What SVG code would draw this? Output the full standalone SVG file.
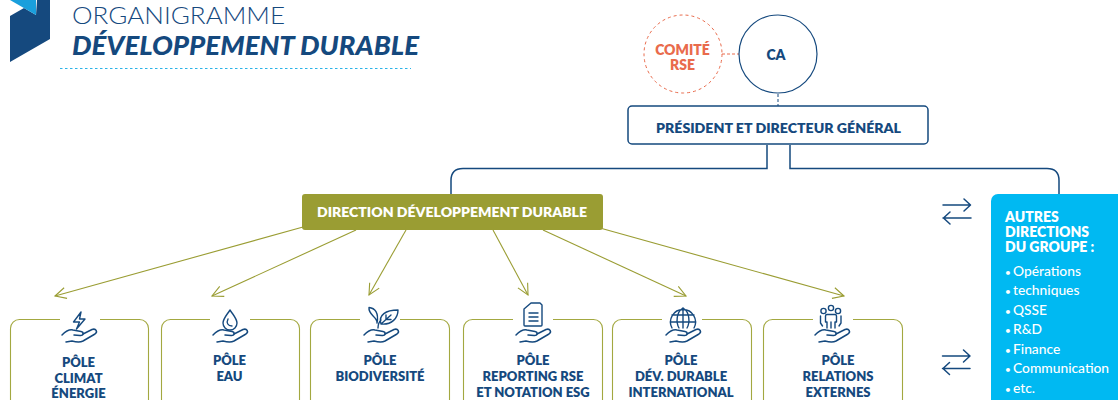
<svg xmlns="http://www.w3.org/2000/svg" width="1118" height="400" viewBox="0 0 1118 400">
<defs>
<marker id="oa" markerUnits="userSpaceOnUse" markerWidth="16" markerHeight="16" refX="14" refY="8" orient="auto"><path d="M3 2.500L14 8L3 13.500" fill="none" stroke="#9a9d33" stroke-width="1.100"/></marker>
<g id="hand" fill="none" stroke="#15497e" stroke-width="1.500" stroke-linecap="round" stroke-linejoin="round">
<path d="M-17 -3C-13 -7 -10 -9 -6 -8L2 -6.500C5 -6 5 -2 1 -2.500L-5 -3"/>
<path d="M4 -4L13 -8.500C17 -10 19 -6 16 -4L4 3C1 4.500 -3 4 -7 3L-13 4"/>
</g>
</defs>
<style>
text{font-family:Lato,"Liberation Sans",sans-serif}
.b{font-weight:800;fill:#15497e;font-size:13px;text-anchor:middle}
.o{fill:#e96b4c;font-size:14px;font-weight:800}
.card{fill:#fff;stroke:#a3a840;stroke-width:1.100}
.ic{fill:none;stroke:#15497e;stroke-width:1.400;stroke-linecap:round;stroke-linejoin:round}
.gap{fill:#fff;stroke:none}
.l{fill:none;stroke:#9a9d33;stroke-width:1.100;marker-end:url(#oa)}
.n{fill:none;stroke:#15497e;stroke-width:1.500}
.h{fill:#fff;font-size:14px;font-weight:800}
.li{fill:#fff;font-size:13.800px;font-weight:500}
.dot{font-size:10px}
</style>
<g id="logo">
<polygon points="10,16 24,8 36,15 37,0 50,0 50,39 10,62" fill="#15497e"/>
<polygon points="10,0 36,0 36,15" fill="#1a9fdc"/>
</g>
<g id="title">
<text x="72" y="23.700" font-size="24.300" fill="#15497e" font-weight="300" textLength="213" lengthAdjust="spacingAndGlyphs">ORGANIGRAMME</text>
<text x="72" y="55" font-size="27" fill="#15497e" font-weight="900" font-style="italic" textLength="347" lengthAdjust="spacingAndGlyphs">DÉVELOPPEMENT DURABLE</text>
<line x1="60" y1="68.500" x2="411" y2="68.500" stroke="#2bb3e8" stroke-width="1" stroke-dasharray="2.500 2.500"/>
</g>
<g id="connectors">
<line x1="722" y1="54" x2="739" y2="54" stroke="#e96b4c" stroke-width="1" stroke-dasharray="3 2"/>
<line x1="778" y1="94" x2="778" y2="106" stroke="#15497e" stroke-width="1" stroke-dasharray="3 2"/>
<path class="n" d="M767 145V168.500H463Q451 168.500 451 180.500V194"/>
<path class="n" d="M790 145V168.500H1047Q1059 168.500 1059 180.500V194"/>
<line class="l" x1="303" y1="227" x2="55" y2="296"/>
<line class="l" x1="356" y1="230" x2="212" y2="296"/>
<line class="l" x1="406" y1="230" x2="369" y2="295"/>
<line class="l" x1="493" y1="230" x2="528" y2="295"/>
<line class="l" x1="543" y1="230" x2="686" y2="296"/>
<line class="l" x1="600" y1="228" x2="844" y2="296"/>
<g fill="none" stroke="#15497e" stroke-width="1.500" stroke-linecap="round" stroke-linejoin="round">
<path d="M943 205H970M964 199L970.500 205L964 211"/>
<path d="M971 218H943M950 212L943.500 218L950 224"/>
<path d="M942.500 356H970M963.500 350L970 356L963.500 362"/>
<path d="M970 368.500H942.500M949.500 362.500L943 368.500L949.500 374.500"/>
</g>
</g>
<g id="comite"><circle cx="683" cy="54" r="39" fill="#fff" stroke="#e96b4c" stroke-width="1" stroke-dasharray="3 3"/>
<text class="b o" x="682.500" y="55">COMITÉ</text><text class="b o" x="682.500" y="70">RSE</text></g>
<g id="ca"><circle cx="778" cy="54" r="39" fill="#fff" stroke="#15497e" stroke-width="1.200"/><text class="b" x="776" y="60" style="font-size:14px">CA</text></g>
<g id="president"><rect x="628" y="106" width="300" height="38" rx="4" fill="#fff" stroke="#15497e" stroke-width="1.500"/><text class="b" x="778.500" y="133" textLength="245" lengthAdjust="spacingAndGlyphs">PRÉSIDENT ET DIRECTEUR GÉNÉRAL</text></g>
<g id="direction"><rect x="302" y="194" width="301" height="36" rx="3" fill="#9a9d33"/><text class="b" x="452" y="217" style="fill:#fff" textLength="270" lengthAdjust="spacingAndGlyphs">DIRECTION DÉVELOPPEMENT DURABLE</text></g>
<g id="pole-climat"><rect class="card" x="10.500" y="319.500" width="138" height="100" rx="9"/><rect class="gap" x="60" y="316" width="40" height="8"/>
<path class="ic" d="M81 312L73.500 322H79.500L76.500 329L85 319H79.500Z"/><use href="#hand" x="79" y="338"/>
<text class="b" x="78.500" y="367">PÔLE</text><text class="b" x="78.500" y="383">CLIMAT</text><text class="b" x="78.500" y="398">ÉNERGIE</text></g>
<g id="pole-eau"><rect class="card" x="161.500" y="319.500" width="138" height="100" rx="9"/><rect class="gap" x="210" y="316" width="40" height="8"/>
<path class="ic" d="M230 310C226 316 223 319 223 323A7 7 0 0 0 237 323C237 319 234 316 230 310ZM228 319C226 323 228 326 232 326"/><use href="#hand" x="230" y="338"/>
<text class="b" x="229.500" y="365">PÔLE</text><text class="b" x="229.500" y="381">EAU</text></g>
<g id="pole-biodiversite"><rect class="card" x="310.500" y="319.500" width="139" height="100" rx="9"/><rect class="gap" x="360" y="316" width="40" height="8"/>
<path class="ic" d="M381 324C378 315 386 310 398 310C398 318 392 325 381 324ZM381 324L391 315M386 319.500H391M386 319.500V315M378 328C378 325 379 322 381 320M377 323C378 317 368 315 369 307.500C375 308 379 313 377 323Z"/><use href="#hand" x="381" y="338"/>
<text class="b" x="380" y="365">PÔLE</text><text class="b" x="380" y="381">BIODIVERSITÉ</text></g>
<g id="pole-reporting"><rect class="card" x="463.500" y="319.500" width="139" height="100" rx="9"/><rect class="gap" x="513" y="316" width="40" height="8"/>
<path class="ic" d="M531 303H540L542 305V325Q542 326 541 326H525Q524 326 524 325V309ZM529 313H538M529 317H538M529 321H538"/><use href="#hand" x="533" y="338"/>
<text class="b" x="533" y="365">PÔLE</text><text class="b" x="533" y="381">REPORTING RSE</text><text class="b" x="533" y="397">ET NOTATION ESG</text></g>
<g id="pole-dev"><rect class="card" x="612.500" y="319.500" width="139" height="100" rx="9"/><rect class="gap" x="662" y="316" width="40" height="8"/>
<path class="ic" d="M672 328A12.500 12.500 0 1 1 694 328M683 308V328M672 315H694M670.500 322H695.500M683 308C676 312 676 323 679 328M683 308C690 312 690 323 687 328"/><use href="#hand" x="683" y="338"/>
<text class="b" x="681" y="365">PÔLE</text><text class="b" x="681" y="381">DÉV. DURABLE</text><text class="b" x="681" y="397">INTERNATIONAL</text></g>
<g id="pole-relations"><rect class="card" x="763.500" y="319.500" width="139" height="100" rx="9"/><rect class="gap" x="813" y="316" width="40" height="8"/>
<g class="ic"><circle cx="823.500" cy="311" r="2.600"/><circle cx="831" cy="308" r="2.600"/><circle cx="838" cy="311" r="2.600"/><path d="M827 314.500H835Q836.500 314.500 836.500 316V322H835V328M827 328V322H825.500V316Q825.500 314.500 827 314.500M820.500 316V323L822.500 326M841 316V323L839 326M831 322V328"/></g><use href="#hand" x="832" y="338"/>
<text class="b" x="838" y="365">PÔLE</text><text class="b" x="838" y="381">RELATIONS</text><text class="b" x="838" y="397">EXTERNES</text></g>
<g id="autres"><rect x="991" y="194" width="140" height="220" rx="7" fill="#00b9f2"/>
<text class="h" x="1005" y="222">AUTRES</text><text class="h" x="1005" y="237">DIRECTIONS</text><text class="h" x="1005" y="252">DU GROUPE :</text>
<text class="li" x="1005" y="276"><tspan class="dot">•</tspan><tspan x="1013">Opérations</tspan></text>
<text class="li" x="1005" y="295"><tspan class="dot">•</tspan><tspan x="1013">techniques</tspan></text>
<text class="li" x="1005" y="315"><tspan class="dot">•</tspan><tspan x="1013">QSSE</tspan></text>
<text class="li" x="1005" y="334"><tspan class="dot">•</tspan><tspan x="1013">R&amp;D</tspan></text>
<text class="li" x="1005" y="354"><tspan class="dot">•</tspan><tspan x="1013">Finance</tspan></text>
<text class="li" x="1005" y="373"><tspan class="dot">•</tspan><tspan x="1013">Communication</tspan></text>
<text class="li" x="1005" y="393"><tspan class="dot">•</tspan><tspan x="1013">etc.</tspan></text></g>
</svg>
